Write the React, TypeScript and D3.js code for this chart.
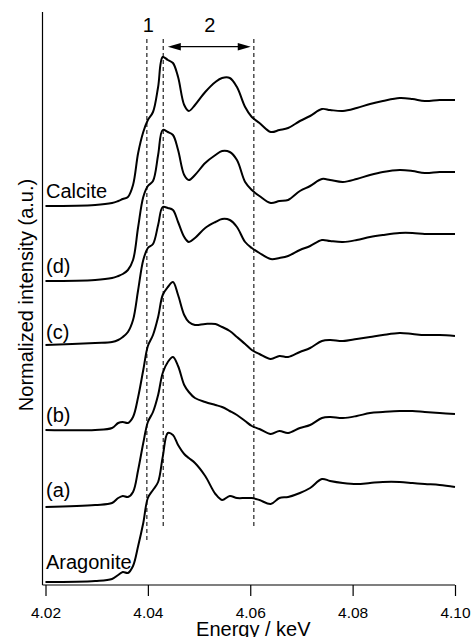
import React, { useRef, useEffect } from "react";
import * as d3 from "d3";

// energy grid (keV) shared by all spectra
const energy = [
  4.02, 4.0297, 4.033, 4.0342, 4.0351, 4.0361, 4.0371, 4.0381, 4.0391, 4.04,
  4.041, 4.042, 4.0429, 4.0439, 4.0449, 4.0459, 4.0471, 4.048, 4.0492, 4.0512,
  4.0532, 4.0545, 4.056, 4.0574, 4.059, 4.0603, 4.0618, 4.064, 4.0657, 4.0674,
  4.0697, 4.0717, 4.074, 4.0756, 4.0781, 4.0808, 4.0834, 4.0859, 4.0892, 4.0917,
  4.0941, 4.097, 4.1,
];

// normalized intensities, each relative to its own pre-edge level
const calcite = [
  0, 0.01, 0.03, 0.05, 0.07, 0.09, 0.21, 0.53, 0.74, 0.86,
  0.94, 1.19, 1.49, 1.46, 1.43, 1.29, 1.01, 0.95, 1.01, 1.14,
  1.24, 1.28, 1.28, 1.19, 0.99, 0.89, 0.83, 0.74, 0.76, 0.78,
  0.85, 0.9, 0.97, 0.96, 0.95, 0.98, 1.02, 1.05, 1.08, 1.07,
  1.05, 1.06, 1.06,
];
const sampleD = [
  0, 0.01, 0.03, 0.05, 0.07, 0.11, 0.21, 0.54, 0.84, 0.95,
  1.0, 1.26, 1.51, 1.49, 1.46, 1.31, 1.06, 1.01, 1.06, 1.18,
  1.26, 1.3, 1.29, 1.21, 0.99, 0.91, 0.85, 0.78, 0.8, 0.81,
  0.9, 0.95, 1.02, 1.01, 0.99, 1.02, 1.06, 1.09, 1.11, 1.1,
  1.08, 1.09, 1.09,
];
const sampleC = [
  0, 0.02, 0.03, 0.05, 0.08, 0.13, 0.25, 0.55, 0.85, 0.97,
  1.01, 1.2, 1.38, 1.37, 1.35, 1.23, 1.08, 1.03, 1.07, 1.17,
  1.23, 1.26, 1.25, 1.18, 1.03, 0.97, 0.92, 0.86, 0.87, 0.89,
  0.95, 0.99, 1.05, 1.04, 1.03, 1.05, 1.08, 1.1, 1.12, 1.12,
  1.11, 1.11, 1.11,
];
const sampleB = [
  0, 0, 0.02, 0.07, 0.08, 0.07, 0.13, 0.33, 0.6, 0.84,
  0.95, 1.13, 1.35, 1.43, 1.48, 1.35, 1.15, 1.08, 1.05, 1.06,
  1.06, 1.03, 0.99, 0.93, 0.86, 0.8, 0.76, 0.71, 0.74, 0.73,
  0.78, 0.82, 0.89, 0.9, 0.89, 0.91, 0.93, 0.95, 0.97, 0.96,
  0.95, 0.95, 0.94,
];
const sampleA = [
  0, 0.02, 0.04, 0.09, 0.11, 0.1, 0.15, 0.37, 0.64, 0.85,
  0.95, 1.12, 1.34, 1.45, 1.5, 1.41, 1.22, 1.15, 1.09, 1.05,
  1.02, 1.0, 0.96, 0.92, 0.86, 0.81, 0.78, 0.73, 0.76, 0.74,
  0.79, 0.82, 0.89, 0.9, 0.89, 0.91, 0.94, 0.95, 0.96, 0.96,
  0.95, 0.94, 0.93,
];
const aragonite = [
  0, 0.01, 0.03, 0.07, 0.1, 0.09, 0.16, 0.36, 0.59, 0.84,
  0.92, 1.0, 1.25, 1.49, 1.47, 1.37, 1.28, 1.24, 1.19, 1.06,
  0.88, 0.82, 0.86, 0.84, 0.84, 0.84, 0.82, 0.78, 0.84, 0.85,
  0.89, 0.94, 1.03, 1.01, 0.99, 0.98, 0.99, 1.0, 1.0, 0.99,
  0.98, 0.97, 0.95,
];

const sampleNames = ["Calcite", "(d)", "(c)", "(b)", "(a)", "Aragonite"];
const spectra = [calcite, sampleD, sampleC, sampleB, sampleA, aragonite];
const offsets = [3.79, 3.04, 2.4, 1.55, 0.78, 0.03];

const xTicks = [4.02, 4.04, 4.06, 4.08, 4.1];

// dashed guide lines and the region labels above them
const markerEnergies = [4.0398, 4.043, 4.0607];
const regionLabels = ["1", "2"];
const regionLabelEnergies = [4.0401, 4.0521];
const arrowRange = [4.0439, 4.0601];

const App = () => {
  const svgRef = useRef<SVGSVGElement | null>(null);

  useEffect(() => {
    const width = 473;
    const height = 637;
    const font = "'Liberation Sans', Arial, sans-serif";

    const svg = d3.select(svgRef.current).attr("width", width).attr("height", height);
    svg.selectAll("*").remove();

    const x = d3.scaleLinear().domain([4.02, 4.1]).range([45.5, 455]);
    const y = d3.scaleLinear().domain([0, 5.73]).range([585, 12]);

    // x axis
    const xAxis = svg
      .append("g")
      .attr("transform", `translate(0,${y(0)})`)
      .call(
        d3
          .axisBottom(x)
          .tickValues(xTicks)
          .tickFormat(d3.format(".2f"))
          .tickSize(11)
          .tickSizeOuter(0)
          .tickPadding(11)
      );
    xAxis.select(".domain").remove();
    xAxis.selectAll("line").attr("stroke", "#000").attr("stroke-width", 1.2);
    xAxis
      .selectAll("text")
      .attr("fill", "#000")
      .style("font-family", font)
      .style("font-size", "15.5px");

    // axis frame lines (left and bottom)
    svg
      .append("line")
      .attr("x1", x(4.02) - 3)
      .attr("x2", x(4.1))
      .attr("y1", y(0))
      .attr("y2", y(0))
      .attr("stroke", "#000")
      .attr("stroke-width", 1.2);
    svg
      .append("line")
      .attr("x1", x(4.02) - 3)
      .attr("x2", x(4.02) - 3)
      .attr("y1", y(5.73))
      .attr("y2", y(0))
      .attr("stroke", "#000")
      .attr("stroke-width", 1.2);

    // axis titles
    svg
      .append("text")
      .attr("x", x(4.0606))
      .attr("y", 636)
      .attr("text-anchor", "middle")
      .style("font-family", font)
      .style("font-size", "20px")
      .text("Energy / keV");

    svg
      .append("text")
      .attr("transform", "translate(33,295) rotate(-90)")
      .attr("text-anchor", "middle")
      .style("font-family", font)
      .style("font-size", "20px")
      .text("Normalized intensity (a.u.)");

    // dashed guides
    const markerTop = 5.46;
    const markerBottoms = [0.45, 0.58, 0.58];
    markerEnergies.forEach((e, i) => {
      svg
        .append("line")
        .attr("x1", x(e))
        .attr("x2", x(e))
        .attr("y1", y(markerTop))
        .attr("y2", y(markerBottoms[i]))
        .attr("stroke", "#222")
        .attr("stroke-width", 1.2)
        .attr("stroke-dasharray", "4,3");
    });

    // region labels
    regionLabels.forEach((t, i) => {
      svg
        .append("text")
        .attr("x", x(regionLabelEnergies[i]))
        .attr("y", y(5.53))
        .attr("text-anchor", "middle")
        .style("font-family", font)
        .style("font-size", "20px")
        .text(t);
    });

    // double-headed arrow for region 2
    const ay = y(5.383);
    const ax1 = x(arrowRange[0]);
    const ax2 = x(arrowRange[1]);
    svg
      .append("line")
      .attr("x1", ax1 + 6)
      .attr("x2", ax2 - 6)
      .attr("y1", ay)
      .attr("y2", ay)
      .attr("stroke", "#000")
      .attr("stroke-width", 1.3);
    svg
      .append("path")
      .attr("d", `M${ax1},${ay}L${ax1 + 13},${ay - 3.8}L${ax1 + 13},${ay + 3.8}Z`)
      .attr("fill", "#000");
    svg
      .append("path")
      .attr("d", `M${ax2},${ay}L${ax2 - 13},${ay - 3.8}L${ax2 - 13},${ay + 3.8}Z`)
      .attr("fill", "#000");

    // spectra
    const line = d3
      .line<number>()
      .x((d, i) => x(energy[i]))
      .y((d) => y(d))
      .curve(d3.curveCatmullRom.alpha(0.5));

    spectra.forEach((s, k) => {
      svg
        .append("path")
        .datum(s.map((v) => v + offsets[k]))
        .attr("d", line)
        .attr("fill", "none")
        .attr("stroke", "#000")
        .attr("stroke-width", 2)
        .attr("stroke-linejoin", "round");
    });

    // sample labels just above each pre-edge line
    const labelLift = [0.08, 0.08, 0.065, 0.085, 0.105, 0.13];
    sampleNames.forEach((name, k) => {
      svg
        .append("text")
        .attr("x", 46)
        .attr("y", y(offsets[k] + labelLift[k]))
        .style("font-family", font)
        .style("font-size", "20px")
        .text(name);
    });
  }, []);

  return (
    <svg
      ref={svgRef}
      style={{ position: "absolute", left: 0, top: 0, display: "block", background: "#fff" }}
    ></svg>
  );
};

export default App;
